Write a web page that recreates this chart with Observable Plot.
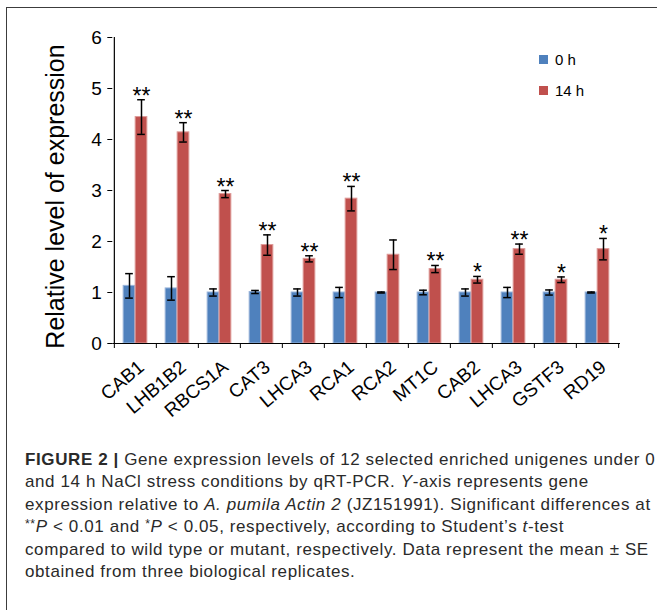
<!DOCTYPE html>
<html>
<head>
<meta charset="utf-8">
<script src="https://cdn.jsdelivr.net/npm/d3@7"></script>
<script src="https://cdn.jsdelivr.net/npm/@observablehq/plot@0.6"></script>
<style>
  body { margin: 0; background: #fff; }
  #fig { position: relative; width: 657px; height: 610px; overflow: hidden;
         font-family: "Liberation Sans", Arial, sans-serif; }
  #frame { position: absolute; left: 6px; top: 7px; width: 900px; height: 900px;
           border-left: 1.6px solid #3c3c3c; border-top: 1.6px solid #3c3c3c; }
  #chart { position: absolute; left: 0; top: 0; }
  .key { position: absolute; display: flex; align-items: center; font-size: 15px; color: #000; }
  .key span.sw { display: inline-block; width: 9px; height: 9px; margin-right: 7px; }
  #caption { position: absolute; left: 25px; top: 449px; font-size: 17px; letter-spacing: 0.6px;
             line-height: 22.3px; color: #2a2a2a; white-space: nowrap; }
  #caption .st { font-size: 0.72em; position: relative; top: -0.35em; }
</style>
</head>
<body>
<div id="fig">
  <div id="frame"></div>
  <div id="chart"></div>
  <div id="legend"></div>
  <div id="caption">
    <div><b>FIGURE 2 |</b> Gene expression levels of 12 selected enriched unigenes under 0</div>
    <div>and 14 h NaCl stress conditions by qRT-PCR. <i>Y</i>-axis represents gene</div>
    <div>expression relative to <i>A. pumila Actin 2</i> (JZ151991). Significant differences at</div>
    <div><span class="st">**</span><i>P</i> &lt; 0.01 and <span class="st">*</span><i>P</i> &lt; 0.05, respectively, according to Student’s <i>t</i>-test</div>
    <div>compared to wild type or mutant, respectively. Data represent the mean ± SE</div>
    <div>obtained from three biological replicates.</div>
  </div>
</div>
<script>
// Genes measured by qRT-PCR (LHCA3 appears twice, so bands are keyed by index)
const genes = ["CAB1", "LHB1B2", "RBCS1A", "CAT3", "LHCA3", "RCA1", "RCA2", "MT1C", "CAB2", "LHCA3", "GSTF3", "RD19"];
const series = ["0 h", "14 h"];
const colors = ["#4f81bd", "#c0504d"];
const edges = ["#9ab5db", "#de9a98"];

// Relative expression (mean) and standard error per time point
const h0 = [1.13, 1.08, 1.00, 1.01, 1.00, 1.00, 1.00, 1.00, 1.00, 1.00, 1.00, 1.00];
const h0Err = [0.24, 0.23, 0.07, 0.03, 0.07, 0.10, 0.01, 0.045, 0.07, 0.10, 0.05, 0.01];
const h14 = [4.44, 4.14, 2.93, 1.93, 1.66, 2.84, 1.74, 1.46, 1.25, 1.85, 1.25, 1.85];
const h14Err = [0.34, 0.19, 0.07, 0.20, 0.06, 0.24, 0.29, 0.07, 0.065, 0.10, 0.055, 0.21];

// Significance marks for 14 h vs 0 h
const sig = ["**", "**", "**", "**", "**", "**", "", "**", "*", "**", "*", "*"];

const yTicks = [0, 1, 2, 3, 4, 5, 6];
const yLabel = "Relative level of expression";

const idx = d3.range(genes.length);
const rows0 = idx.map(i => ({i, value: h0[i], err: h0Err[i]}));
const rows14 = idx.map(i => ({i, value: h14[i], err: h14Err[i], sig: sig[i]}));

const W = 657, H = 420;
const mL = 112.3, mR = 37, mT = 37, mB = 77;
const bw = (W - mL - mR) / genes.length;   // band width
const barW = 12;                          // width of one bar
const gap = (bw - 2 * barW) / 2;          // space either side of a bar pair
const capW = 8;                           // error-bar cap width

// horizontal offsets of bar centres relative to band centre
const off0 = -barW / 2, off14 = barW / 2;

const errMarks = (rows, dx, capLeft) => [
  Plot.ruleX(rows, {x: "i", y1: d => d.value - d.err, y2: d => d.value + d.err, dx, stroke: "#000", strokeWidth: 1.5}),
  Plot.tickY(rows, {x: "i", y: d => d.value + d.err, insetLeft: capLeft, insetRight: bw - capLeft - capW, stroke: "#000", strokeWidth: 1.5}),
  Plot.tickY(rows, {x: "i", y: d => d.value - d.err, insetLeft: capLeft, insetRight: bw - capLeft - capW, stroke: "#000", strokeWidth: 1.5})
];

const chart = Plot.plot({
  width: W,
  height: H,
  marginLeft: mL,
  marginRight: mR,
  marginTop: mT,
  marginBottom: mB,
  style: {fontFamily: "'Liberation Sans', Arial, sans-serif", color: "#000", background: "transparent", overflow: "visible"},
  x: {type: "band", domain: idx, padding: 0},
  y: {domain: [0, 6]},
  marks: [
    Plot.barY(rows0, {x: "i", y: "value", fill: colors[0], stroke: edges[0], strokeWidth: 1,
      insetLeft: gap, insetRight: gap + barW}),
    Plot.barY(rows14, {x: "i", y: "value", fill: colors[1], stroke: edges[1], strokeWidth: 1,
      insetLeft: gap + barW, insetRight: gap}),
    ...errMarks(rows0, off0, gap + barW / 2 - capW / 2),
    ...errMarks(rows14, off14, gap + barW * 1.5 - capW / 2),
    Plot.text(rows14, {x: "i", y: d => d.value + d.err, text: "sig", dx: off14, dy: 4,
      lineAnchor: "bottom", fontSize: 23, letterSpacing: 1, fill: "#000"}),
    // axes
    Plot.ruleY([0], {stroke: "#000", strokeWidth: 1.2}),
    Plot.ruleX([0], {dx: -bw / 2, stroke: "#000", strokeWidth: 1.2}),
    Plot.axisY({ticks: yTicks, tickFormat: d3.format("d"), tickSize: 5, tickPadding: 6, fontSize: 19, label: null, stroke: "#000"}),
    Plot.axisX({ticks: idx, tickSize: 5, tickFormat: () => "", dx: -bw / 2, label: null, stroke: "#000"}),
    Plot.axisX({ticks: [idx[idx.length - 1]], tickSize: 5, tickFormat: () => "", dx: bw / 2, label: null, stroke: "#000"}),
    Plot.text(idx, {x: d => d, text: i => genes[i], frameAnchor: "bottom", rotate: -40,
      textAnchor: "end", lineAnchor: "middle", dx: 6, dy: 21, fontSize: 19, fill: "#000"}),
    Plot.text([yLabel], {frameAnchor: "left", rotate: -90, dx: -57, dy: 6, fontSize: 25,
      textAnchor: "middle", lineAnchor: "middle", fill: "#000"})
  ]
});
document.getElementById("chart").appendChild(chart);

// legend in the upper right of the plot area
const legend = document.getElementById("legend");
series.forEach((s, k) => {
  const el = document.createElement("div");
  el.className = "key";
  el.style.left = "539px";
  el.style.top = (51 + k * 31) + "px";
  el.innerHTML = `<span class="sw" style="background:${colors[k]}"></span>${s}`;
  legend.appendChild(el);
});
</script>
</body>
</html>
